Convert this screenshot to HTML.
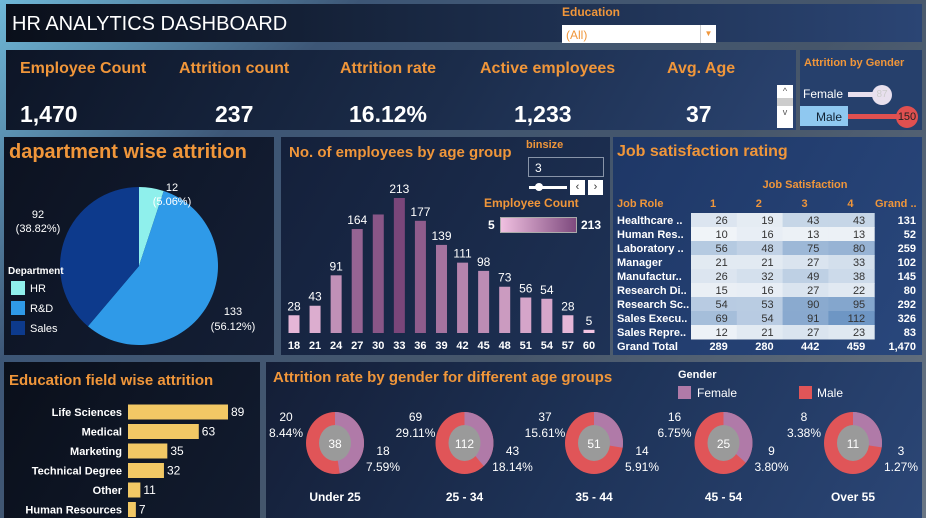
<!DOCTYPE html>
<html><head><meta charset="utf-8">
<style>
*{box-sizing:border-box;margin:0;padding:0}
body{width:926px;height:518px;overflow:hidden;font-family:"Liberation Sans",sans-serif;background:linear-gradient(135deg,#6fb8d8 0%,#3d5676 25%,#46566a 60%,#6a7684 100%);position:relative}
.p{position:absolute;background:linear-gradient(120deg,#0d1526 0%,#1b2c4a 55%,#2a4370 100%)}
.o{color:#f0963a;font-weight:bold}
.w{color:#fff}
.abs{position:absolute;white-space:nowrap}
</style></head><body>
<div class="p" style="left:6px;top:4px;width:916px;height:38px;background:linear-gradient(90deg,#0a0f1a,#1a2a46 50%,#2b4574)">
 <div class="abs w" style="left:6px;top:9px;font-size:20px">HR ANALYTICS DASHBOARD</div>
 <div class="abs o" style="left:556px;top:1px;font-size:12px">Education</div>
 <div class="abs" style="left:556px;top:21px;width:154px;height:18px;background:#fff;color:#f0963a;font-size:12px;padding:3px 4px">(All)<span style="position:absolute;right:0;top:0;width:16px;height:18px;border-left:1px solid #ccc;font-size:8px;text-align:center;line-height:18px">▼</span></div>
</div>
<div class="p" style="left:6px;top:50px;width:790px;height:80px">
 <div class="abs o" style="left:14px;top:10px;font-size:16px">Employee Count</div>
 <div class="abs o" style="left:173px;top:10px;font-size:16px">Attrition count</div>
 <div class="abs o" style="left:334px;top:10px;font-size:16px">Attrition rate</div>
 <div class="abs o" style="left:474px;top:10px;font-size:16px">Active employees</div>
 <div class="abs o" style="left:661px;top:10px;font-size:16px">Avg. Age</div>
 <div class="abs w" style="left:14px;top:51px;font-size:23px;font-weight:bold">1,470</div>
 <div class="abs w" style="left:209px;top:51px;font-size:23px;font-weight:bold">237</div>
 <div class="abs w" style="left:343px;top:51px;font-size:23px;font-weight:bold">16.12%</div>
 <div class="abs w" style="left:508px;top:51px;font-size:23px;font-weight:bold">1,233</div>
 <div class="abs w" style="left:680px;top:51px;font-size:23px;font-weight:bold">37</div>
 <div class="abs" style="left:771px;top:35px;width:16px;height:43px;background:#fff;font-size:9px;color:#555;text-align:center;line-height:13px">^<br><span style="display:block;background:#ccc;height:8px"></span>v</div>
</div>
<div class="p" style="left:800px;top:50px;width:122px;height:80px;background:#26406c">
 <div class="abs o" style="left:4px;top:7px;font-size:11px">Attrition by Gender</div>
 <div class="abs w" style="left:3px;top:37px;font-size:12px">Female</div>
 <div class="abs" style="left:0;top:56px;width:48px;height:20px;background:#8fc8f0"></div>
 <div class="abs w" style="left:16px;top:60px;font-size:12px;color:#123">Male</div>
 <div class="abs" style="left:48px;top:42px;width:32px;height:5px;background:#e8e0ee"></div>
 <div class="abs" style="left:72px;top:35px;width:20px;height:20px;border-radius:50%;background:#e8e0ee;color:#ccc;font-size:10px;text-align:center;line-height:20px">87</div>
 <div class="abs" style="left:48px;top:64px;width:58px;height:5px;background:#e05050"></div>
 <div class="abs" style="left:96px;top:56px;width:22px;height:22px;border-radius:50%;background:#e05050;color:#222;font-size:11px;text-align:center;line-height:22px">150</div>
</div>

<div class="p" style="left:4px;top:137px;width:270px;height:218px;background:linear-gradient(120deg,#0c1220,#141f36)">
 <div class="abs o" style="left:5px;top:4px;font-size:20px">dapartment wise attrition</div>
</div>
<div class="p" style="left:281px;top:137px;width:329px;height:218px;background:linear-gradient(120deg,#14203a,#1e3256)">
 <div class="abs o" style="left:8px;top:7px;font-size:15px">No. of employees by age group</div>
 <div class="abs o" style="left:245px;top:2px;font-size:11px">binsize</div>
 <div class="abs w" style="left:247px;top:20px;width:76px;height:20px;border:1px solid #8894a8;font-size:12px;padding:3px 6px">3</div>
 <div class="abs" style="left:248px;top:49px;width:38px;height:3px;background:#fff"><div style="position:absolute;left:6px;top:-3px;width:8px;height:8px;border-radius:50%;background:#fff"></div></div>
 <div class="abs" style="left:289px;top:43px;width:15px;height:15px;background:#fff;color:#333;font-size:11px;text-align:center;line-height:15px">‹</div>
 <div class="abs" style="left:307px;top:43px;width:15px;height:15px;background:#fff;color:#333;font-size:11px;text-align:center;line-height:15px">›</div>
 <div class="abs o" style="left:203px;top:59px;font-size:12px">Employee Count</div>
 <div class="abs w" style="left:207px;top:81px;font-size:12px;font-weight:bold">5</div>
 <div class="abs" style="left:219px;top:80px;width:77px;height:16px;border:1px solid #aaa;background:linear-gradient(90deg,#f0c0e0,#7e4a7e)"></div>
 <div class="abs w" style="left:300px;top:81px;font-size:12px;font-weight:bold">213</div>
</div>
<div class="p" style="left:613px;top:137px;width:309px;height:218px;background:linear-gradient(120deg,#1e3766,#29477c)">
 <div class="abs o" style="left:4px;top:6px;font-size:16px">Job satisfaction rating</div>
</div>
<div class="p" style="left:4px;top:362px;width:256px;height:156px;background:linear-gradient(120deg,#0a0f1a,#121c30)">
 <div class="abs o" style="left:5px;top:10px;font-size:15px">Education field wise attrition</div>
</div>
<div class="p" style="left:266px;top:362px;width:656px;height:156px;background:linear-gradient(120deg,#141e36,#1e3358 50%,#2b4676)">
 <div class="abs o" style="left:7px;top:7px;font-size:15px">Attrition rate by gender for different age groups</div>
</div>

<svg id="chart" width="926" height="518" style="position:absolute;left:0;top:0" font-family="Liberation Sans, sans-serif"></svg>

<script>
const NS='http://www.w3.org/2000/svg';
const svg=document.getElementById('chart');
function mk(t,a,p){const e=document.createElementNS(NS,t);for(const k in a)e.setAttribute(k,a[k]);(p||svg).appendChild(e);return e;}
function tx(x,y,s,a){const e=mk('text',Object.assign({x:x,y:y,fill:'#fff','font-size':12},a));e.textContent=s;return e;}

// ---- Department pie ----
const deptNames=['HR','R&D','Sales'];
const deptValues=[12,133,92];
const deptColors=['#8ff0ec','#2f9ae8','#0d3a8c'];
const deptTotal=deptValues.reduce((a,b)=>a+b,0);
const pcx=139,pcy=266,pr=79;
let ang=0;
deptValues.forEach((v,i)=>{
  const a0=ang,a1=ang+v/deptTotal*2*Math.PI;ang=a1;
  const x0=pcx+pr*Math.sin(a0),y0=pcy-pr*Math.cos(a0),x1=pcx+pr*Math.sin(a1),y1=pcy-pr*Math.cos(a1);
  const p=mk('path',{d:`M${pcx},${pcy}L${x0},${y0}A${pr},${pr} 0 ${a1-a0>Math.PI?1:0} 1 ${x1},${y1}Z`,fill:deptColors[i]});
  
  
});
const pieLabelPos=[[172,191,172,205],[233,315,233,330],[38,218,38,232]];
deptValues.forEach((v,i)=>{
  const q=pieLabelPos[i];
  tx(q[0],q[1],String(v),{'text-anchor':'middle','font-size':11});
  tx(q[2],q[3],'('+(v/deptTotal*100).toFixed(2)+'%)',{'text-anchor':'middle','font-size':11});
});
tx(8,274,'Department',{'font-size':10,'font-weight':'bold'});
deptNames.forEach((n,i)=>{
  const r=mk('rect',{x:11,y:281+i*20,width:14,height:14,fill:deptColors[i]});
  
  
  tx(30,292+i*20,n,{'font-size':11});
});

// ---- Age histogram ----
const ageBins=[18,21,24,27,30,33,36,39,42,45,48,51,54,57,60];
const ageCounts=[28,43,91,164,187,213,177,139,111,98,73,56,54,28,5];
const ageLabels=['28','43','91','164','','213','177','139','111','98','73','56','54','28','5'];
const ax0=294,astep=21.07,abase=333,aScale=135/213;
function lerpC(t){const a=[242,196,226],b=[122,70,122];return `rgb(${a.map((c,i)=>Math.round(c+(b[i]-c)*t)).join(',')})`;}
ageBins.forEach((b,i)=>{
  const v=ageCounts[i],h=v*aScale,x=ax0+i*astep;
  const r=mk('rect',{x:x-5.5,y:abase-h,width:11,height:h,fill:lerpC((v-5)/208)});
  
  
  if(ageLabels[i])tx(x,abase-h-5,ageLabels[i],{'text-anchor':'middle','font-size':12});
  tx(x,349,String(b),{'text-anchor':'middle','font-size':11,'font-weight':'bold'});
});

// ---- Job satisfaction heatmap ----
const jobRoles=['Healthcare ..','Human Res..','Laboratory ..','Manager','Manufactur..','Research Di..','Research Sc..','Sales Execu..','Sales Repre..'];
const satLevels=['1','2','3','4'];
const satValues=[[26,19,43,43],[10,16,13,13],[56,48,75,80],[21,21,27,33],[26,32,49,38],[15,16,27,22],[54,53,90,95],[69,54,91,112],[12,21,27,23]];
const hx0=691,hcw=45.8,hy0=213,hrh=14;
tx(805,188,'Job Satisfaction',{fill:'#f0963a','font-size':11,'font-weight':'bold','text-anchor':'middle'});
tx(617,207,'Job Role',{fill:'#f0963a','font-size':11,'font-weight':'bold'});
satLevels.forEach((s,j)=>tx(hx0+hcw*j+22,207,s,{fill:'#f0963a','font-size':11,'font-weight':'bold','text-anchor':'middle'}));
tx(875,207,'Grand ..',{fill:'#f0963a','font-size':11,'font-weight':'bold'});
function heatC(v){const t=Math.min(1,(v-10)/102);const a=[240,244,248],b=[110,150,196];return `rgb(${a.map((c,i)=>Math.round(c+(b[i]-c)*t)).join(',')})`;}
const colTotals=[0,0,0,0];
jobRoles.forEach((r,i)=>{
  const y=hy0+i*hrh;
  tx(617,y+11,r,{'font-size':11,'font-weight':'bold'});
  let tot=0;
  satValues[i].forEach((v,j)=>{
    tot+=v;colTotals[j]+=v;
    const c=mk('rect',{x:hx0+hcw*j,y:y,width:hcw+0.5,height:hrh+0.5,fill:heatC(v)});
    
    
    tx(hx0+hcw*(j+1)-9,y+11,String(v),{fill:'#333','font-size':11,'text-anchor':'end'});
  });
  tx(916,y+11,String(tot),{'font-size':11,'font-weight':'bold','text-anchor':'end'});
});
const gy=hy0+9*hrh+11;
tx(617,gy,'Grand Total',{'font-size':11,'font-weight':'bold'});
let grand=0;
colTotals.forEach((t,j)=>{grand+=t;tx(hx0+hcw*(j+1)-9,gy,String(t),{'font-size':11,'font-weight':'bold','text-anchor':'end'});});
tx(916,gy,grand.toLocaleString('en-US'),{'font-size':11,'font-weight':'bold','text-anchor':'end'});

// ---- Education bars ----
const eduFields=['Life Sciences','Medical','Marketing','Technical Degree','Other','Human Resources'];
const eduValues=[89,63,35,32,11,7];
const ex0=128,eScale=100/89,ey0=412,estep=19.5;
eduFields.forEach((f,i)=>{
  const y=ey0+i*estep,w=eduValues[i]*eScale;
  tx(122,y+4,f,{'font-size':11,'font-weight':'bold','text-anchor':'end'});
  const r=mk('rect',{x:ex0,y:y-7.5,width:w,height:15,fill:'#f2c865'});
  
  
  tx(ex0+w+3,y+4,String(eduValues[i]),{'font-size':12});
});

// ---- Gender donuts ----
const ageGroups=['Under 25','25 - 34','35 - 44','45 - 54','Over 55'];
const maleVals=[20,69,37,16,8];
const femaleVals=[18,43,14,9,3];
const totalAttr=237;
const dcx0=335,dstep=129.5,dcy=443,drx=29,dry=31;
tx(678,378,'Gender',{'font-size':11,'font-weight':'bold'});
let lg=mk('rect',{x:678,y:386,width:13,height:13,fill:'#b07aa8'});


tx(697,397,'Female',{'font-size':12});
lg=mk('rect',{x:799,y:386,width:13,height:13,fill:'#e05558'});


tx(817,397,'Male',{'font-size':12});
ageGroups.forEach((g,i)=>{
  const cx=dcx0+i*dstep,m=maleVals[i],f=femaleVals[i],tot=m+f;
  const fa=f/tot*2*Math.PI;
  const fx=cx+drx*Math.sin(fa),fy=dcy-dry*Math.cos(fa);
  const mp=mk('ellipse',{cx:cx,cy:dcy,rx:drx,ry:dry,fill:'#e05558'});
  
  
  const fp=mk('path',{d:`M${cx},${dcy}L${cx},${dcy-dry}A${drx},${dry} 0 ${fa>Math.PI?1:0} 1 ${fx},${fy}Z`,fill:'#b07aa8'});
  
  
  mk('ellipse',{cx:cx,cy:dcy,rx:16,ry:18,fill:'#9a9a9a'});
  tx(cx,dcy+5,String(tot),{'font-size':12,'text-anchor':'middle'});
  tx(cx-49,421,String(m),{'font-size':12,'text-anchor':'middle'});
  tx(cx-49,437,(m/totalAttr*100).toFixed(2)+'%',{'font-size':12,'text-anchor':'middle'});
  tx(cx+48,455,String(f),{'font-size':12,'text-anchor':'middle'});
  tx(cx+48,471,(f/totalAttr*100).toFixed(2)+'%',{'font-size':12,'text-anchor':'middle'});
  tx(cx,501,g,{'font-size':12,'font-weight':'bold','text-anchor':'middle'});
});
</script>
</body></html>
